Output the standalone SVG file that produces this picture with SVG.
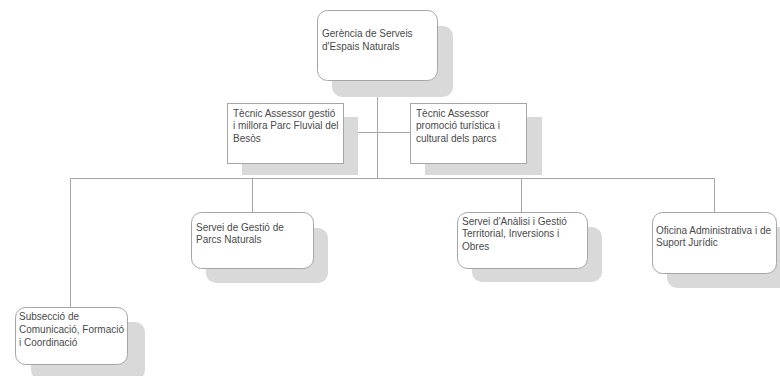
<svg xmlns="http://www.w3.org/2000/svg" width="780" height="376" viewBox="0 0 780 376">
<style>
.shadow{fill:#d9d9d9;stroke:none}
.box{fill:#ffffff;stroke:#a6a6a6;stroke-width:1}
.lbl{font-family:"Liberation Sans",Arial,sans-serif;font-size:10px;fill:#4a4a4a}
.conn{stroke:#a6a6a6;stroke-width:1;fill:none}
</style>
<rect width="780" height="376" fill="#ffffff"/>
<g id="connectors">
<path class="conn" d="M377.5 80 V178.5"/>
<path class="conn" d="M343 132.5 H410"/>
<path class="conn" d="M70.5 178.5 H714.5"/>
<path class="conn" d="M70.5 178.5 V307"/>
<path class="conn" d="M252.5 178.5 V213"/>
<path class="conn" d="M521.5 178.5 V213"/>
<path class="conn" d="M714.5 178.5 V212"/>
</g>
<g id="gerencia">
<rect class="shadow" x="332" y="26" width="121" height="71" rx="10"/>
<rect class="box" x="317.5" y="10.5" width="120" height="70" rx="10"/>
<text class="lbl" x="322" y="36.5">Gerència de Serveis</text>
<text class="lbl" x="322" y="49.5">d'Espais Naturals</text>
</g>
<g id="tecnic-besos">
<rect class="shadow" x="242" y="117" width="116" height="58"/>
<rect class="box" x="227.5" y="103.5" width="116" height="60"/>
<text class="lbl" x="233" y="116.5">Tècnic Assessor gestió</text>
<text class="lbl" x="233" y="129">i millora Parc Fluvial del</text>
<text class="lbl" x="233" y="141.5">Besòs</text>
</g>
<g id="tecnic-promocio">
<rect class="shadow" x="425" y="117" width="117" height="58"/>
<rect class="box" x="410.5" y="103.5" width="116" height="60"/>
<text class="lbl" x="416" y="116.5">Tècnic Assessor</text>
<text class="lbl" x="416" y="129">promoció turística i</text>
<text class="lbl" x="416" y="141.5">cultural dels parcs</text>
</g>
<g id="subseccio">
<rect class="shadow" x="31" y="322" width="114" height="58" rx="10"/>
<rect class="box" x="15.5" y="307.5" width="112" height="57" rx="10"/>
<text class="lbl" x="19" y="319.5">Subsecció de</text>
<text class="lbl" x="19" y="332.5">Comunicació, Formació</text>
<text class="lbl" x="19" y="345.5">i Coordinació</text>
</g>
<g id="servei-gestio">
<rect class="shadow" x="206" y="228" width="122" height="55" rx="10"/>
<rect class="box" x="191.5" y="212.5" width="122" height="56" rx="10"/>
<text class="lbl" x="196" y="231">Servei de Gestió de</text>
<text class="lbl" x="196" y="243">Parcs Naturals</text>
</g>
<g id="servei-analisi">
<rect class="shadow" x="472" y="227" width="130" height="55" rx="10"/>
<rect class="box" x="457.5" y="212.5" width="130" height="56" rx="10"/>
<text class="lbl" x="462" y="225">Servei d'Anàlisi i Gestió</text>
<text class="lbl" x="462" y="237">Territorial, Inversions i</text>
<text class="lbl" x="462" y="249.5">Obres</text>
</g>
<g id="oficina">
<rect class="shadow" x="667" y="227" width="124" height="61" rx="10"/>
<rect class="box" x="652.5" y="212.5" width="124" height="61" rx="10"/>
<text class="lbl" x="656" y="234">Oficina Administrativa i de</text>
<text class="lbl" x="656" y="246">Suport Jurídic</text>
</g>
</svg>
